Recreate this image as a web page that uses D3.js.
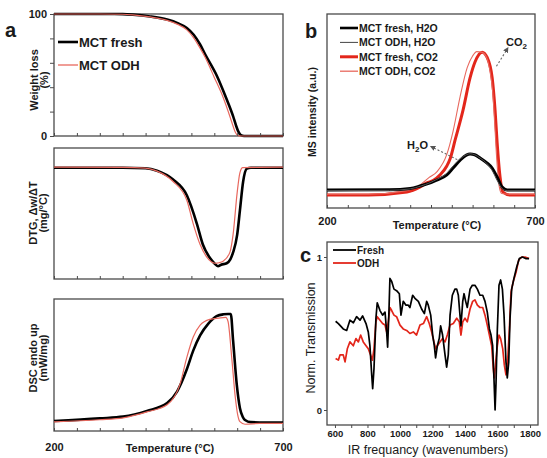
<!DOCTYPE html>
<html><head><meta charset="utf-8">
<script src="https://cdn.jsdelivr.net/npm/d3@7"></script>
<style>
body{margin:0;background:#fff;}
text{font-family:"Liberation Sans",Arial,sans-serif;fill:#1a1a1a;}
</style></head>
<body>
<script>
// ---------- DATA ----------
// Panel a: TGA weight loss (%) vs temperature (°C)
const tgaFresh = [[200,100],[300,100],[350,99.9],[372,99.5],[410,98],[447,95.4],[470,92.5],[490,88.6],[505,83],[519,75],[530,67],[556,49],[575,32],[591,16.3],[598,8],[602,4],[608,0.8],[615,0],[700,0]];
const tgaODH   = [[200,100],[300,100],[350,99.8],[372,99.3],[410,97.6],[447,94.8],[470,91.5],[490,87],[505,80.5],[519,72],[530,64.5],[550,48],[570,31],[585,15],[592,7],[596,3],[601,0.5],[608,0],[700,0]];
// DTG (arbitrary units, min normalised to -1)
const dtgFresh = [[200,0],[350,0],[400,-0.005],[425,-0.03],[460,-0.12],[490,-0.28],[512,-0.57],[525,-0.78],[541,-0.92],[550,-0.97],[558,-1.0],[565,-0.985],[577,-0.97],[585,-0.93],[591,-0.86],[600,-0.68],[606,-0.43],[613,-0.14],[621,-0.01],[630,0],[700,0]];
const dtgODH   = [[200,0.005],[350,0.003],[400,-0.005],[425,-0.035],[460,-0.14],[490,-0.33],[504,-0.57],[519,-0.78],[534,-0.91],[552,-0.97],[560,-0.965],[569,-0.95],[584,-0.86],[591,-0.68],[600,-0.25],[606,-0.05],[612,0],[700,0.005]];
// DSC endo up (arbitrary units, peak normalised to 1)
const dscFresh = [[200,0],[300,0.025],[351,0.041],[403,0.095],[447,0.168],[469,0.278],[490,0.484],[504,0.658],[519,0.80],[537,0.91],[555,0.98],[570,0.997],[580,1.0],[586,1.0],[591,0.753],[599,0.342],[606,0.12],[612,0.04],[617,0.01],[630,-0.01],[700,-0.015]];
const dscODH   = [[200,-0.008],[300,0.012],[351,0.03],[403,0.085],[447,0.152],[475,0.342],[490,0.595],[504,0.785],[519,0.896],[540,0.95],[560,0.962],[575,0.968],[580,0.93],[588,0.595],[596,0.215],[601,0.06],[606,-0.006],[617,-0.03],[650,-0.022],[700,-0.022]];
// Panel b: MS intensity (a.u.)
const msFreshH2O = [[200,0.034],[350,0.036],[400,0.045],[424,0.062],[450,0.085],[464,0.103],[488,0.138],[503,0.186],[520,0.24],[535,0.275],[544,0.283],[555,0.278],[568,0.255],[585,0.22],[597,0.186],[609,0.124],[621,0.055],[633,0.034],[700,0.034]];
const msODHH2O   = [[200,0.03],[350,0.032],[400,0.042],[424,0.06],[450,0.088],[464,0.108],[488,0.15],[503,0.2],[520,0.25],[535,0.278],[544,0.285],[555,0.278],[568,0.255],[585,0.215],[597,0.17],[609,0.1],[621,0.045],[633,0.03],[700,0.03]];
const msFreshCO2 = [[200,0],[300,0],[392,0.02],[424,0.055],[440,0.083],[455,0.10],[472,0.14],[488,0.20],[496,0.25],[508,0.38],[527,0.586],[544,0.81],[556,0.92],[573,0.986],[585,0.95],[597,0.81],[604,0.586],[609,0.36],[616,0.124],[623,0.02],[640,0],[700,0]];
const msODHCO2   = [[200,0.005],[300,0.005],[392,0.03],[424,0.07],[445,0.12],[464,0.16],[488,0.28],[503,0.44],[520,0.68],[537,0.88],[550,0.96],[560,0.99],[573,0.985],[585,0.94],[592,0.85],[598,0.72],[603,0.5],[608,0.25],[614,0.06],[620,0.01],[640,0.005],[700,0.005]];
// Panel c: normalised IR transmission vs wavenumber
const irFresh = [[604,0.58],[621,0.565],[651,0.53],[672,0.52],[692,0.587],[713,0.57],[733,0.61],[754,0.587],[770,0.615],[791,0.565],[805,0.51],[815,0.42],[826,0.23],[832,0.14],[840,0.27],[852,0.6],[860,0.70],[877,0.65],[893,0.62],[908,0.64],[918,0.51],[924,0.41],[932,0.64],[938,0.86],[949,0.84],[963,0.79],[979,0.78],[996,0.76],[1006,0.62],[1020,0.71],[1037,0.685],[1051,0.685],[1061,0.67],[1078,0.75],[1092,0.73],[1113,0.71],[1133,0.66],[1150,0.63],[1164,0.71],[1174,0.685],[1189,0.62],[1201,0.49],[1211,0.42],[1219,0.34],[1230,0.42],[1242,0.47],[1250,0.55],[1262,0.49],[1277,0.36],[1287,0.28],[1297,0.36],[1308,0.62],[1322,0.75],[1338,0.79],[1349,0.79],[1359,0.75],[1369,0.62],[1375,0.55],[1386,0.71],[1394,0.76],[1404,0.71],[1414,0.67],[1431,0.79],[1445,0.815],[1461,0.815],[1476,0.79],[1492,0.75],[1509,0.75],[1523,0.71],[1537,0.64],[1550,0.53],[1560,0.49],[1570,0.42],[1578,0.21],[1585,0.0],[1591,0.185],[1599,0.53],[1609,0.815],[1619,0.85],[1630,0.79],[1640,0.62],[1652,0.315],[1660,0.21],[1669,0.315],[1677,0.6],[1687,0.79],[1701,0.86],[1718,0.935],[1734,0.99],[1753,1.0],[1773,0.99],[1794,0.99]];
const irODH = [[604,0.337],[621,0.326],[631,0.36],[651,0.36],[662,0.315],[676,0.40],[692,0.445],[713,0.42],[729,0.467],[744,0.445],[758,0.49],[774,0.445],[791,0.42],[805,0.40],[819,0.36],[830,0.326],[840,0.40],[852,0.576],[860,0.61],[877,0.587],[893,0.565],[908,0.555],[918,0.51],[928,0.576],[938,0.67],[949,0.65],[963,0.62],[979,0.61],[1000,0.555],[1020,0.53],[1041,0.52],[1061,0.5],[1082,0.51],[1102,0.49],[1123,0.555],[1144,0.565],[1164,0.61],[1180,0.565],[1195,0.51],[1209,0.445],[1219,0.40],[1230,0.42],[1246,0.445],[1262,0.467],[1277,0.445],[1291,0.49],[1308,0.555],[1328,0.565],[1349,0.6],[1365,0.576],[1375,0.49],[1386,0.576],[1400,0.6],[1414,0.576],[1431,0.66],[1447,0.71],[1461,0.72],[1476,0.685],[1492,0.67],[1509,0.67],[1523,0.62],[1537,0.555],[1550,0.49],[1564,0.42],[1574,0.27],[1580,0.21],[1589,0.315],[1599,0.42],[1609,0.49],[1619,0.467],[1632,0.40],[1642,0.293],[1652,0.23],[1662,0.315],[1673,0.53],[1683,0.77],[1697,0.84],[1714,0.9],[1730,0.98],[1749,1.0],[1769,1.0],[1794,0.99]];

const tempTicks = [200,250,300,350,400,450,500,550,600,650,700];
const tempLabels = [200,700];
const wtTicks = [0,20,40,60,80,100];
const wtLabels = [0,100];
const irTicks = [600,700,800,900,1000,1100,1200,1300,1400,1500,1600,1700,1800];
const irLabels = [600,800,1000,1200,1400,1600,1800];
const irYTicks = [0,1];

const legendA = ["MCT fresh","MCT ODH"];
const legendB = ["MCT fresh, H2O","MCT ODH, H2O","MCT fresh, CO2","MCT ODH, CO2"];
const legendC = ["Fresh","ODH"];

// ---------- DRAW ----------
const W=547,H=458;
const svg=d3.select("body").append("svg").attr("width",W).attr("height",H);
const BOX="#4a4a4a", RED="#e3261b", PINK="#e8685e";

const xA=d3.scaleLinear([200,700],[54,283]);
const yA1=d3.scaleLinear([0,100],[136,14]);
const yA2=d3.scaleLinear([-1.13,0.2],[279,148]);
const yA3=d3.scaleLinear([-0.093,1.14],[431,299]);
const xB=d3.scaleLinear([200,700],[327,535]);
const yB=d3.scaleLinear([-0.09,1.25],[208,14]);
const xC=d3.scaleLinear([551,1849],[327,538]);
const yC=d3.scaleLinear([-0.098,1.098],[425,242]);

function box(x,y){
  const [x0,x1]=x.range(), [y0,y1]=y.range();
  svg.append("rect").attr("x",x0).attr("y",y1).attr("width",x1-x0).attr("height",y0-y1)
    .attr("fill","none").attr("stroke",BOX).attr("stroke-width",1.3);
}
function curve(data,x,y,color,w,smooth=true){
  const ln=d3.line().x(d=>x(d[0])).y(d=>y(d[1])).curve(smooth?d3.curveMonotoneX:d3.curveLinear);
  svg.append("path").datum(data).attr("d",ln).attr("fill","none").attr("stroke",color)
    .attr("stroke-width",w).attr("stroke-linejoin","round");
}
function styleAxis(g,fs){
  g.select(".domain").remove();
  g.selectAll("line").attr("stroke",BOX).attr("stroke-width",1);
  g.selectAll("text").attr("font-size",fs).attr("font-weight","bold").attr("fill","#1a1a1a")
    .attr("font-family",'"Liberation Sans",Arial,sans-serif');
}
function bottomTicks(x,y,labels,fs,pad){
  const g=svg.append("g").attr("transform",`translate(0,${y.range()[0]})`)
    .call(d3.axisBottom(x).tickValues(tempTicks).tickSize(-3).tickPadding(pad)
      .tickFormat(d=>labels.includes(d)?d:""));
  styleAxis(g,fs);
  return g;
}

// Panel a1
box(xA,yA1);
curve(tgaFresh,xA,yA1,"#000",2.6);
curve(tgaODH,xA,yA1,PINK,1.2);
bottomTicks(xA,yA1,[],11,9);
{
  const g=svg.append("g").attr("transform","translate(54,0)")
    .call(d3.axisLeft(yA1).tickValues(wtTicks).tickSize(4).tickPadding(3)
      .tickFormat(d=>wtLabels.includes(d)?d:""));
  styleAxis(g,11);
}
// Panel a2
box(xA,yA2);
curve(dtgFresh,xA,yA2,"#000",2.6);
curve(dtgODH,xA,yA2,PINK,1.2);
bottomTicks(xA,yA2,[],11,9);
// Panel a3
box(xA,yA3);
curve(dscFresh,xA,yA3,"#000",2.6);
curve(dscODH,xA,yA3,PINK,1.2);
bottomTicks(xA,yA3,tempLabels,11,12);

// titles panel a
function ytitle(lines,x,yc,fs,weight,gap){
  const t=svg.append("text").attr("transform",`translate(${x},${yc}) rotate(-90)`)
    .attr("text-anchor","middle").attr("font-size",fs).attr("font-weight",weight);
  lines.forEach((l,i)=>t.append("tspan").attr("x",0).attr("dy",i===0?0:gap).text(l));
}
ytitle(["Weight loss","(%)"],38,80,11,"bold",10);
ytitle(["DTG, \u0394w/\u0394T","(mg/\u00B0C)"],37,213,11,"bold",10);
ytitle(["DSC endo up","(mW/mg)"],37,358,11,"bold",10);
svg.append("text").attr("x",170).attr("y",452).attr("text-anchor","middle")
  .attr("font-size",11).attr("font-weight","bold").text("Temperature (\u00B0C)");

// legend a
[["#000",2.6],[PINK,1.3]].forEach((s,i)=>{
  const y=42+i*23;
  svg.append("line").attr("x1",58).attr("x2",78).attr("y1",y).attr("y2",y).attr("stroke",s[0]).attr("stroke-width",s[1]);
  svg.append("text").attr("x",79).attr("y",y+4.5).attr("font-size",13).attr("font-weight","bold").text(legendA[i]);
});
svg.append("text").attr("x",5).attr("y",37).attr("font-size",20).attr("font-weight","bold").text("a");

// Panel b
box(xB,yB);
curve(msFreshCO2,xB,yB,RED,3);
curve(msODHCO2,xB,yB,PINK,1.1);
curve(msFreshH2O,xB,yB,"#000",3);
curve(msODHH2O,xB,yB,"#555",1);
bottomTicks(xB,yB,tempLabels,11,9);
svg.append("text").attr("x",437).attr("y",229).attr("text-anchor","middle")
  .attr("font-size",11).attr("font-weight","bold").text("Temperature (\u00B0C)");
ytitle(["MS intensity (a.u.)"],316,112,10.5,"bold",0);
[["#000",2.6],["#444",1],[RED,3],[PINK,1.3]].forEach((s,i)=>{
  const y=28+i*14.4;
  svg.append("line").attr("x1",340).attr("x2",358).attr("y1",y).attr("y2",y).attr("stroke",s[0]).attr("stroke-width",s[1]);
  svg.append("text").attr("x",359).attr("y",y+4).attr("font-size",10.5).attr("font-weight","bold").text(legendB[i]);
});
svg.append("text").attr("x",305).attr("y",38).attr("font-size",20).attr("font-weight","bold").text("b");

// annotations b
svg.append("defs").append("marker").attr("id","arr").attr("viewBox","0 0 6 6").attr("refX",1).attr("refY",3)
  .attr("markerWidth",5).attr("markerHeight",5).attr("orient","auto-start-reverse")
  .append("path").attr("d","M0,0 L6,3 L0,6 z").attr("fill","#555");
function annot(txt,sub,tail,x,y,x1,y1,x2,y2){
  const t=svg.append("text").attr("x",x).attr("y",y).attr("font-size",11).attr("font-weight","bold");
  t.append("tspan").text(txt);
  t.append("tspan").attr("font-size",8).attr("dy",3).text(sub);
  if(tail) t.append("tspan").attr("dy",-3).text(tail);
  svg.append("line").attr("x1",x1).attr("y1",y1).attr("x2",x2).attr("y2",y2)
    .attr("stroke","#666").attr("stroke-width",1.1).attr("stroke-dasharray","2,2")
    .attr("marker-start","url(#arr)");
}
annot("H","2","O",407,149,434,148,458,160);
annot("CO","2","",506,46,506,51,496,67);

// Panel c
box(xC,yC);
curve(irODH,xC,yC,RED,1.7,false);
curve(irFresh,xC,yC,"#000",1.7,false);
{
  const g=svg.append("g").attr("transform",`translate(0,425)`)
    .call(d3.axisBottom(xC).tickValues(irTicks).tickSize(3).tickPadding(2)
      .tickFormat(d=>irLabels.includes(d)?d:""));
  styleAxis(g,9.5);
  const g2=svg.append("g").attr("transform",`translate(327,0)`)
    .call(d3.axisLeft(yC).tickValues(irYTicks).tickSize(3).tickPadding(2).tickFormat(d3.format("d")));
  styleAxis(g2,9.5);
}
svg.append("text").attr("x",428).attr("y",454).attr("text-anchor","middle")
  .attr("font-size",12.5).text("IR frequancy (wavenumbers)");
ytitle(["Norm. Transmission"],315,338,12.5,"normal",0);
[["#000"],[RED]].forEach((s,i)=>{
  const y=250+i*13;
  svg.append("line").attr("x1",333).attr("x2",356).attr("y1",y).attr("y2",y).attr("stroke",s[0]).attr("stroke-width",1.8);
  svg.append("text").attr("x",357).attr("y",y+3.5).attr("font-size",10).attr("font-weight","bold").text(legendC[i]);
});
svg.append("text").attr("x",300).attr("y",262).attr("font-size",20).attr("font-weight","bold").text("c");
</script>
</body></html>
